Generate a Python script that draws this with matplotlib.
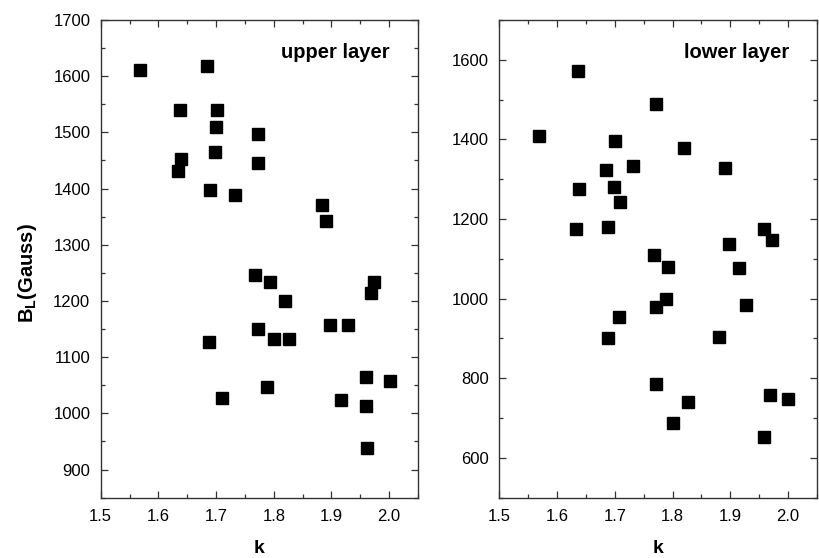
import matplotlib
matplotlib.use("Agg")
import matplotlib.pyplot as plt
from matplotlib.ticker import MultipleLocator

plt.rcParams['font.family'] = ['Liberation Sans', 'DejaVu Sans']
plt.rcParams['mathtext.fontset'] = 'custom'
plt.rcParams['mathtext.rm'] = 'Liberation Sans'
plt.rcParams['mathtext.bf'] = 'Liberation Sans:bold'

# upper layer data
k_up = [1.568, 1.684, 1.638, 1.701, 1.700, 1.772, 1.639, 1.698, 1.773, 1.634,
        1.690, 1.733, 1.883, 1.891, 1.768, 1.794, 1.973, 1.969, 1.819, 1.773,
        1.898, 1.929, 1.800, 1.827, 1.688, 1.789, 1.710, 1.960, 2.001, 1.916,
        1.960, 1.961]
b_up = [1611, 1618, 1539, 1539, 1509, 1498, 1453, 1465, 1446, 1432,
        1398, 1388, 1370, 1343, 1246, 1234, 1234, 1215, 1200, 1151,
        1157, 1158, 1133, 1132, 1127, 1047, 1027, 1064, 1057, 1024,
        1013, 938]

# lower layer data
k_lo = [1.568, 1.637, 1.772, 1.700, 1.819, 1.684, 1.732, 1.890, 1.638, 1.699,
        1.709, 1.633, 1.688, 1.958, 1.972, 1.897, 1.768, 1.792, 1.915, 1.788,
        1.772, 1.927, 1.707, 1.689, 1.881, 1.772, 1.826, 1.800, 1.968, 2.000,
        1.959]
b_lo = [1408, 1573, 1489, 1397, 1379, 1322, 1333, 1327, 1275, 1280,
        1243, 1175, 1179, 1175, 1148, 1138, 1109, 1080, 1076, 1000,
        980, 985, 954, 900, 903, 786, 741, 688, 757, 749,
        653]

fig = plt.figure(figsize=(8.19, 5.58), dpi=100)
ax1 = fig.add_axes([100.7 / 819, 1 - 497.7 / 558, 317.3 / 819, 477.7 / 558])
ax2 = fig.add_axes([499.3 / 819, 1 - 497.7 / 558, 317.7 / 819, 477.7 / 558])

for ax, k, b, label in [(ax1, k_up, b_up, 'upper layer'), (ax2, k_lo, b_lo, 'lower layer')]:
    ax.plot(k, b, 's', color='black', markersize=8, linestyle='none')
    ax.set_xlim(1.5, 2.05)
    ax.xaxis.set_major_locator(MultipleLocator(0.1))
    ax.xaxis.set_minor_locator(MultipleLocator(0.05))
    ax.tick_params(which='both', direction='in', top=True, right=True,
                   labelsize=12, color='#333333', width=0.9)
    ax.tick_params(which='major', length=5)
    ax.tick_params(which='minor', length=3)
    ax.tick_params(axis='y', pad=7.5)
    ax.tick_params(axis='x', pad=8)
    for s in ax.spines.values():
        s.set_linewidth(1.0)
        s.set_color('#333333')
    ax.set_xlabel('k', fontsize=14, fontweight='bold', labelpad=11.5)
    ax.text(0.912, 0.933, label, transform=ax.transAxes, ha='right', va='center',
            fontsize=14.5, fontweight='bold')

ax1.set_ylim(850, 1700)
ax1.yaxis.set_major_locator(MultipleLocator(100))
ax1.yaxis.set_minor_locator(MultipleLocator(50))
ax1.set_ylabel(r'$\mathbf{B}_{\mathbf{L}}$(Gauss)', fontsize=14.5, fontweight='bold', labelpad=10)
ax1.yaxis.label.set_y(0.47)

ax2.set_ylim(500, 1700)
ax2.yaxis.set_major_locator(MultipleLocator(200))
ax2.yaxis.set_minor_locator(MultipleLocator(100))

fig.savefig('out.png', dpi=100)
